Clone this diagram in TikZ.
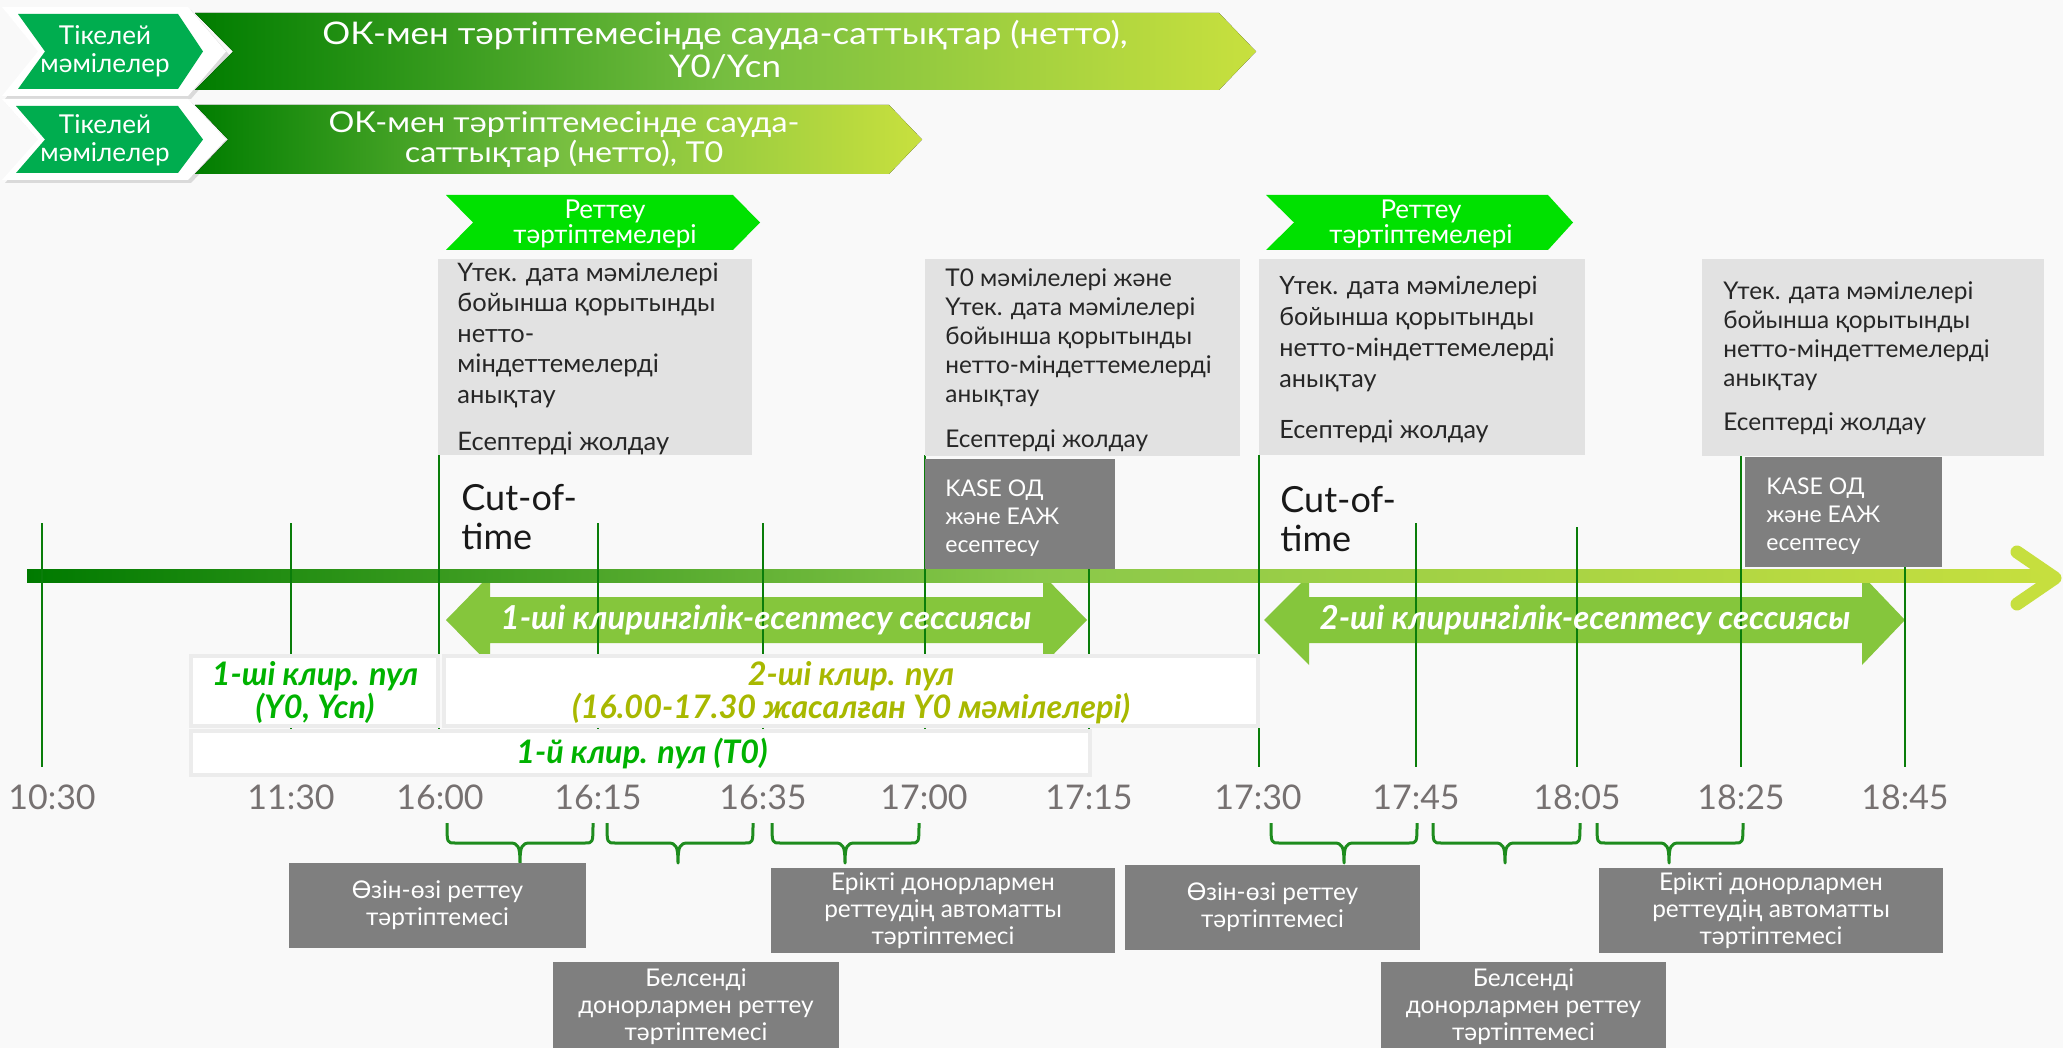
\documentclass[tikz,border=0pt]{standalone}
\usepackage{fontspec}
\setmainfont{Lato}
\newfontfamily\hdrfont{Lato}[FakeStretch=1.12]
\usetikzlibrary{shadows}
\definecolor{bg}{RGB}{249,249,249}
\definecolor{vline}{RGB}{10,125,10}
\definecolor{hdrA}{RGB}{0,125,0}
\definecolor{hdrB}{RGB}{118,190,64}
\definecolor{hdrC}{RGB}{200,224,62}
\definecolor{tlA}{RGB}{0,122,0}
\definecolor{tlB}{RGB}{138,200,74}
\definecolor{tlC}{RGB}{198,223,62}
\definecolor{chevA}{RGB}{0,173,79}
\definecolor{chevB}{RGB}{0,225,0}
\definecolor{lgray}{RGB}{226,226,226}
\definecolor{dgray}{RGB}{127,127,127}
\definecolor{darr}{RGB}{133,198,60}
\definecolor{poolG}{RGB}{0,178,0}
\definecolor{poolO}{RGB}{168,184,0}
\definecolor{pborder}{RGB}{236,236,236}
\definecolor{tgray}{RGB}{118,113,113}
\definecolor{txt}{RGB}{38,38,38}
\definecolor{brc}{RGB}{30,140,30}
\newcommand\fsz[2]{\fontsize{#1pt}{#2pt}\selectfont}
\tikzset{
  hdrtext/.style={text=white, align=center, inner sep=0pt},
  chevtext/.style={text=white, align=center, inner sep=0pt, font=\fsz{13}{14}},
  regtext/.style={text=white, align=center, inner sep=0pt, font=\fsz{13}{12.5}},
  boxtext/.style={text=txt, align=left, inner sep=0pt, anchor=north west},
  kasetext/.style={text=white, align=left, inner sep=0pt, anchor=west, font=\fsz{11.5}{14}},
  cuttext/.style={text=black!90, align=left, inner sep=0pt, anchor=west, font=\fsz{18}{19.5}},
  sestext/.style={text=white, inner sep=0pt, font=\fsz{16.5}{18}\bfseries\itshape},
  pooltext/.style={align=center, inner sep=0pt, font=\fsz{16.2}{16.5}\bfseries\itshape},
  poolbox/.style={draw=pborder, line width=2pt, fill=white},
  tlab/.style={text=tgray, inner sep=0pt, font=\fsz{17}{18}},
  dbox/.style={fill=dgray, text=white, align=center, inner sep=0pt, font=\fsz{12.2}{13.5}},
  vl/.style={vline, line width=1.2pt},
  brace/.style={brc, line width=1.5pt},
}
\begin{document}
\begin{tikzpicture}[x=0.5pt,y=-0.5pt]
\useasboundingbox (0,0) rectangle (2063,1048);
\fill[bg] (0,0) rectangle (2063,1048);

% ---------- header row 1 ----------
\path[fill=white, drop shadow={opacity=0.25, shadow xshift=1.5pt, shadow yshift=-1.5pt}]
  (2,7) -- (188,7) -- (226,51.5) -- (188,96) -- (2,96) -- (38,51.5) -- cycle;
\fill[chevA] (18,14) -- (178,14) -- (203,51.5) -- (178,89) -- (18,89) -- (45,51.5) -- cycle;
\node[chevtext] (tk1) at (105,51) {Тікелей\\мәмілелер};
\fill[left color=hdrA, right color=hdrC, middle color=hdrB]
  (195,13) -- (1219,13) -- (1256,51.5) -- (1219,90) -- (195,90) -- (233,51.5) -- cycle;
\node[hdrtext, font=\hdrfont\fsz{15.6}{16.5}] (ok1) at (725,50) {ОК-мен тәртіптемесінде сауда-саттықтар (нетто),\\Y0/Ycn};

% ---------- header row 2 ----------
\path[fill=white, drop shadow={opacity=0.25, shadow xshift=1.5pt, shadow yshift=-1.5pt}]
  (2,99) -- (188,99) -- (226,139.5) -- (188,180) -- (2,180) -- (38,139.5) -- cycle;
\fill[chevA] (16,106) -- (178,106) -- (203,139.5) -- (178,173) -- (16,173) -- (45,139.5) -- cycle;
\node[chevtext] (tk2) at (105,140) {Тікелей\\мәмілелер};
\fill[left color=hdrA, right color=hdrC, middle color=hdrB]
  (195,105) -- (889,105) -- (922,139.5) -- (889,174) -- (195,174) -- (228,139.5) -- cycle;
\node[hdrtext, font=\hdrfont\fsz{14.4}{14.8}] (ok2) at (564,139.5) {ОК-мен тәртіптемесінде сауда-\\саттықтар (нетто), Т0};

% ---------- clearing session double arrows ----------
\fill[darr] (446,620) -- (490,575) -- (490,597) -- (1043,597) -- (1043,575) -- (1087,620)
  -- (1043,665) -- (1043,643) -- (490,643) -- (490,665) -- cycle;
\fill[darr] (1264,620) -- (1309,575) -- (1309,597) -- (1862,597) -- (1862,575) -- (1905,620)
  -- (1862,665) -- (1862,643) -- (1309,643) -- (1309,665) -- cycle;

% ---------- timeline bar ----------
\fill[left color=tlA, right color=tlC, middle color=tlB] (27,569.5) rectangle (2052,582.5);
\draw[tlC, line width=6.5pt, line cap=round, line join=round] (2017,552) -- (2055,578) -- (2017,604);

% ---------- vertical time lines ----------
\foreach \x/\t in {42/523, 291/523, 439/455, 598/523, 763/523, 925/455, 1089/523,
                   1259/455, 1416/523, 1577/527, 1741/455, 1905/523}
  \draw[vl] (\x,\t) -- (\x,767);

\node[sestext] (s1) at (766,620) {1-ші клирингілік-есептесу сессиясы};
\node[sestext] (s2) at (1585,620) {2-ші клирингілік-есептесу сессиясы};

% ---------- regulation chevrons ----------
\fill[chevB] (446,195) -- (733,195) -- (760,222.5) -- (733,250) -- (446,250) -- (473,222.5) -- cycle;
\node[regtext] (r1) at (605,224) {Реттеу\\тәртіптемелері};
\fill[chevB] (1266,195) -- (1548,195) -- (1573,222.5) -- (1548,250) -- (1266,250) -- (1294,222.5) -- cycle;
\node[regtext] (r2) at (1421,224) {Реттеу\\тәртіптемелері};

% ---------- light gray info boxes ----------
\fill[lgray] (438,259) rectangle (752,455);
\node[boxtext, font=\fsz{12.75}{15.25}] (b1) at (457,262)
  {Үтек. дата мәмілелері\\бойынша қорытынды\\нетто-\\міндеттемелерді\\анықтау\\[8.25pt]Есептерді жолдау};
\fill[lgray] (925,259) rectangle (1240,456);
\node[boxtext, font=\fsz{12.2}{14.5}] (b2) at (945,268)
  {Т0 мәмілелері және\\Үтек. дата мәмілелері\\бойынша қорытынды\\нетто-міндеттемелерді\\анықтау\\[8pt]Есептерді жолдау};
\fill[lgray] (1259,259) rectangle (1585,455);
\node[boxtext, font=\fsz{12.6}{15.5}] (b3) at (1279,276)
  {Үтек. дата мәмілелері\\бойынша қорытынды\\нетто-міндеттемелерді\\анықтау\\[10pt]Есептерді жолдау};
\fill[lgray] (1702,259) rectangle (2044,456);
\node[boxtext, font=\fsz{12.2}{14.5}] (b4) at (1723,281)
  {Үтек. дата мәмілелері\\бойынша қорытынды\\нетто-міндеттемелерді\\анықтау\\[7.5pt]Есептерді жолдау};

% ---------- KASE boxes ----------
\fill[dgray] (925,459) rectangle (1115,569);
\node[kasetext] (k1) at (945,518) {KASE ОД\\және ЕАЖ\\есептесу};
\fill[dgray] (1745,457) rectangle (1942,567);
\node[kasetext] (k2) at (1766,516) {KASE ОД\\және ЕАЖ\\есептесу};

% ---------- cut-off ----------
\node[cuttext] (c1) at (461,517) {Cut-of-\\time};
\node[cuttext] (c2) at (1280,519) {Cut-of-\\time};

% ---------- clearing pools ----------
\draw[poolbox] (191,656) rectangle (438,726);
\draw[poolbox] (444,656) rectangle (1258,726);
\draw[poolbox] (191,731) rectangle (1090,775);
\node[pooltext, text=poolG] (p1) at (315,693) {1-ші клир. пул\\(Y0, Ycn)};
\node[pooltext, text=poolO] (p2) at (851,693) {2-ші клир. пул\\(16.00-17.30 жасалған Y0 мәмілелері)};
\node[pooltext, text=poolG] (p3) at (642,754) {1-й клир. пул (Т0)};

% ---------- time labels ----------
\node[tlab] (t1) at (52,797) {10:30};
\node[tlab] (t2) at (291,797) {11:30};
\node[tlab] (t3) at (440,797) {16:00};
\node[tlab] (t4) at (598,797) {16:15};
\node[tlab] (t5) at (763,797) {16:35};
\node[tlab] (t6) at (924,797) {17:00};
\node[tlab] (t7) at (1089,797) {17:15};
\node[tlab] (t8) at (1258,797) {17:30};
\node[tlab] (t9) at (1416,797) {17:45};
\node[tlab] (t10) at (1577,797) {18:05};
\node[tlab] (t11) at (1741,797) {18:25};
\node[tlab] (t12) at (1905,797) {18:45};

% ---------- braces ----------
\foreach \a/\m/\b in {447/520/593, 607/678/753, 772/845/919, 1271/1344/1417, 1433/1505/1580, 1597/1669/1743}
  \draw[brace, line join=round] (\a,823) .. controls (\a,843) and (\a,843) .. (\a+8,843)
    -- (\m-10,843) .. controls (\m-2,843) and (\m,846) .. (\m,863)
    .. controls (\m,846) and (\m+2,843) .. (\m+10,843)
    -- (\b-8,843) .. controls (\b,843) and (\b,843) .. (\b,823);

% ---------- regime boxes ----------
\node[dbox, minimum width=148.5pt, minimum height=42.5pt] (oz1) at (437.5,905.5) {Өзін-өзі реттеу\\тәртіптемесі};
\node[dbox, minimum width=172pt, minimum height=42.5pt] (er1) at (943,910.5) {Ерікті донорлармен\\реттеудің автоматты\\тәртіптемесі};
\node[dbox, minimum width=143pt, minimum height=45pt] (be1) at (696,1007) {Белсенді\\донорлармен реттеу\\тәртіптемесі};
\node[dbox, minimum width=147.5pt, minimum height=42.5pt] (oz2) at (1272.5,907.5) {Өзін-өзі реттеу\\тәртіптемесі};
\node[dbox, minimum width=172pt, minimum height=42.5pt] (er2) at (1771,910.5) {Ерікті донорлармен\\реттеудің автоматты\\тәртіптемесі};
\node[dbox, minimum width=142.5pt, minimum height=45pt] (be2) at (1523.5,1007) {Белсенді\\донорлармен реттеу\\тәртіптемесі};
\end{tikzpicture}
\end{document}
